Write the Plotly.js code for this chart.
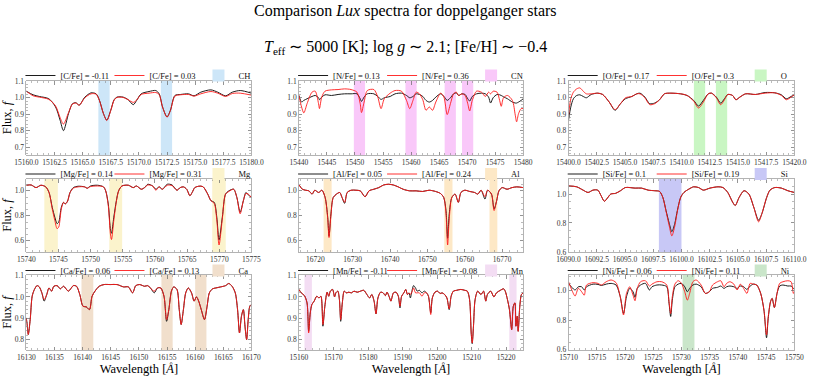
<!DOCTYPE html>
<html>
<head>
<meta charset="utf-8">
<script src="https://cdn.plot.ly/plotly-3.0.1.min.js"></script>
<style>
  html, body { margin: 0; padding: 0; background: #fff; }
  #graph { width: 830px; height: 376px; }
</style>
</head>
<body>
<div id="graph"></div>
<script>
// ---- [C/Fe] : CH lines
const chWave = [15160, 15160.6, 15161.15, 15162.0, 15162.6, 15163.0, 15163.3, 15163.75, 15164.1, 15164.4, 15164.7, 15165.2, 15165.75, 15166.2, 15166.5, 15166.85, 15167.15, 15167.5, 15167.8, 15168.05, 15168.6, 15169.05, 15169.5, 15169.8, 15170.2, 15170.9, 15171.5, 15171.8, 15172.1, 15172.5, 15172.8, 15173.2, 15173.7, 15174.4, 15174.9, 15175.5, 15176.4, 15177.0, 15177.7, 15178.3, 15179.0, 15180.0]
const chLow = [1.04, 1.018, 1.008, 0.994, 0.944, 0.864, 0.80, 0.904, 0.964, 0.97, 0.955, 1.004, 1.03, 1.024, 0.984, 0.904, 0.864, 0.924, 0.988, 1.004, 1.004, 0.988, 0.958, 0.984, 1.024, 1.038, 1.044, 1.024, 0.944, 0.884, 0.924, 1.014, 1.02, 1.024, 1.012, 1.034, 1.048, 1.034, 1.012, 1.034, 1.044, 1.028]
const chHigh = [1.04, 1.012, 1.004, 0.99, 0.95, 0.88, 0.84, 0.91, 0.962, 0.968, 0.955, 1.0, 1.024, 1.022, 0.982, 0.904, 0.862, 0.922, 0.986, 1.002, 1.002, 0.988, 0.972, 0.986, 1.02, 1.028, 1.032, 1.02, 0.944, 0.882, 0.922, 1.01, 1.018, 1.02, 1.01, 1.024, 1.038, 1.028, 1.008, 1.026, 1.028, 1.016]
const chBands = [[15166.4, 15167.4], [15171.95, 15172.95]]
const chNames = ['[C/Fe] = -0.11', '[C/Fe] = 0.03', 'CH']

// ---- [N/Fe] : CN lines
const cnWave = [15440, 15440.47, 15440.87, 15441.45, 15442.33, 15442.9, 15443.5, 15443.66, 15444.07, 15444.65, 15445.8, 15446.98, 15448.14, 15449.3, 15450.35, 15450.93, 15451.16, 15451.63, 15452.2, 15453.37, 15454.07, 15454.65, 15455.23, 15456.28, 15457.15, 15458.3, 15459.19, 15459.77, 15460.35, 15460.93, 15461.5, 15462.1, 15462.67, 15463.26, 15463.84, 15464.42, 15465.29, 15465.87, 15466.45, 15467.03, 15467.6, 15468.08, 15468.5, 15469.07, 15469.65, 15470.12, 15470.47, 15470.93, 15471.69, 15472.56, 15473.26, 15473.84, 15474.19, 15474.65, 15475.35, 15475.81, 15476.1, 15476.5, 15477.2, 15478.08, 15478.6, 15478.84, 15479.19, 15479.65, 15480]
const cnLow = [1.014, 0.974, 0.984, 0.994, 1.008, 1.014, 1.0, 0.988, 1.004, 1.018, 1.014, 1.02, 1.024, 1.024, 1.024, 0.994, 0.978, 1.004, 1.024, 1.024, 1.008, 0.99, 1.0, 1.008, 1.024, 1.028, 1.014, 1.0, 1.008, 1.024, 1.02, 1.008, 0.984, 0.974, 0.984, 1.004, 1.024, 1.008, 0.984, 1.0, 1.024, 1.03, 1.014, 1.024, 1.02, 0.994, 0.98, 1.008, 1.024, 1.028, 1.024, 1.004, 0.968, 1.0, 1.02, 1.018, 1.014, 1.006, 0.994, 0.974, 0.968, 0.968, 0.974, 0.984, 0.994]
const cnHigh = [1.014, 0.944, 0.908, 0.964, 1.034, 1.04, 0.964, 0.934, 1.004, 1.04, 1.048, 1.05, 1.054, 1.05, 1.034, 0.964, 0.91, 0.974, 1.044, 1.05, 1.004, 0.934, 0.994, 1.028, 1.044, 1.04, 0.984, 0.934, 0.984, 1.034, 1.024, 0.988, 0.924, 0.944, 0.924, 0.974, 1.028, 1.004, 0.898, 0.964, 1.024, 1.034, 1.014, 1.024, 1.014, 0.964, 0.92, 0.984, 1.04, 1.034, 1.008, 1.034, 1.024, 1.04, 1.034, 0.984, 0.948, 1.0, 1.014, 0.984, 0.894, 0.854, 0.904, 0.934, 0.934]
const cnBands = [[15449.8, 15451.8], [15459, 15461], [15466, 15468], [15469.1, 15471.1]]
const cnNames = ['[N/Fe] = 0.13', '[N/Fe] = 0.36', 'CN']

// ---- [O/Fe] : O lines
const oWave = [15400, 15400.2, 15400.43, 15400.72, 15401.0, 15401.3, 15401.58, 15402.01, 15402.59, 15403.02, 15403.6, 15404.12, 15404.6, 15405.04, 15405.61, 15406.04, 15406.33, 15406.76, 15407.19, 15407.63, 15408.06, 15408.49, 15409.06, 15409.93, 15410.5, 15411.08, 15411.51, 15411.94, 15412.37, 15412.66, 15413.09, 15413.47, 15413.81, 15414.1, 15414.53, 15414.82, 15415.17, 15415.68, 15416.55, 15417.41, 15418.27, 15418.85, 15419.28, 15419.71, 15420]
const oLow = [0.864, 0.944, 0.994, 1.014, 1.018, 1.008, 1.0, 1.02, 1.028, 1.02, 0.974, 0.924, 0.964, 0.994, 1.008, 1.024, 1.028, 1.004, 0.964, 0.968, 0.988, 1.024, 1.028, 1.024, 1.014, 0.984, 0.95, 0.984, 1.024, 1.028, 1.004, 0.968, 0.994, 1.02, 1.014, 0.988, 1.004, 1.024, 1.02, 1.032, 1.03, 1.018, 0.994, 1.008, 1.018]
const oHigh = [0.894, 0.994, 1.034, 1.054, 1.06, 1.04, 1.024, 1.024, 1.028, 1.02, 0.974, 0.928, 0.964, 1.0, 1.008, 1.024, 1.024, 1.0, 0.958, 0.964, 0.988, 1.024, 1.028, 1.024, 1.014, 0.98, 0.938, 0.974, 1.024, 1.028, 1.0, 0.958, 0.988, 1.02, 1.014, 0.988, 1.004, 1.024, 1.02, 1.028, 1.03, 1.014, 0.988, 1.004, 1.018]
const oBands = [[15411.1, 15412.1], [15413.05, 15414.05]]
const oNames = ['[O/Fe] = 0.17', '[O/Fe] = 0.3', 'O']

// ---- [Mg/Fe] : Mg lines
const mgWave = [15740, 15740.76, 15741.51, 15742.27, 15743.02, 15743.53, 15744.03, 15744.43, 15744.78, 15745.04, 15745.44, 15745.79, 15746.04, 15746.4, 15746.8, 15747.3, 15748.06, 15749.06, 15749.47, 15749.97, 15751.08, 15751.99, 15752.34, 15752.74, 15753.09, 15753.24, 15753.6, 15754.0, 15754.35, 15754.86, 15755.86, 15756.62, 15757.12, 15757.88, 15758.38, 15758.89, 15759.64, 15760.14, 15760.65, 15761.15, 15761.91, 15762.66, 15763.42, 15763.92, 15764.42, 15764.93, 15765.43, 15765.78, 15766.19, 15766.79, 15767.45, 15768.2, 15768.7, 15769.21, 15769.61, 15769.96, 15770.47, 15770.97, 15771.48, 15772.23, 15772.73, 15773.24, 15773.74, 15774.14, 15774.5, 15775]
const mgLow = [1.045, 1.047, 1.026, 1.045, 1.032, 0.987, 0.868, 0.789, 0.737, 0.75, 0.868, 0.908, 0.895, 0.916, 0.987, 1.026, 1.037, 1.032, 1.021, 1.039, 1.045, 1.032, 1.0, 0.895, 0.684, 0.66, 0.789, 0.921, 1.0, 1.039, 1.045, 1.026, 1.039, 1.013, 1.026, 1.053, 1.039, 1.013, 1.032, 1.013, 1.053, 1.047, 1.005, 1.026, 1.032, 1.013, 0.961, 0.987, 1.026, 1.037, 1.034, 0.974, 0.921, 0.908, 0.789, 0.605, 0.789, 0.974, 1.0, 1.013, 0.947, 0.829, 0.921, 0.987, 0.968, 0.947]
const mgHigh = [1.045, 1.047, 1.026, 1.045, 1.032, 0.987, 0.855, 0.763, 0.697, 0.71, 0.855, 0.908, 0.895, 0.916, 0.987, 1.021, 1.032, 1.032, 1.021, 1.034, 1.039, 1.032, 1.0, 0.882, 0.645, 0.61, 0.763, 0.916, 1.0, 1.039, 1.045, 1.026, 1.039, 1.013, 1.026, 1.047, 1.039, 1.005, 1.032, 1.013, 1.045, 1.042, 1.005, 1.026, 1.032, 1.013, 0.961, 0.987, 1.026, 1.037, 1.034, 0.974, 0.921, 0.9, 0.768, 0.566, 0.776, 0.974, 0.995, 1.013, 0.947, 0.816, 0.921, 0.979, 0.974, 0.947]
const mgBands = [[15742.8, 15744.9], [15752.9, 15754.9], [15768.9, 15771.0]]
const mgNames = ['[Mg/Fe] = 0.14', '[Mg/Fe] = 0.31', 'Mg']

// ---- [Al/Fe] : Al lines
const alWave = [16715.65, 16716.52, 16717.39, 16718.26, 16719.13, 16719.83, 16720.87, 16721.74, 16722.61, 16723.3, 16723.65, 16724.17, 16724.78, 16725.65, 16726.52, 16727.13, 16727.83, 16728.52, 16729.57, 16730.87, 16732.0, 16733.3, 16734.35, 16735.65, 16736.96, 16738.26, 16739.57, 16740.87, 16742.17, 16743.48, 16745.22, 16746.96, 16748.7, 16750.43, 16752.17, 16753.48, 16754.35, 16754.96, 16755.39, 16755.83, 16756.52, 16757.39, 16758.26, 16758.96, 16760.0, 16761.3, 16762.61, 16763.48, 16764.35, 16765.39, 16766.09, 16767.13, 16767.83, 16768.52, 16769.13, 16770.0, 16771.3, 16772.61, 16773.91, 16775.65]
const alLow = [1.047, 1.013, 1.005, 1.0, 0.974, 1.005, 0.987, 1.005, 0.947, 0.789, 0.637, 0.816, 0.947, 0.974, 0.987, 0.947, 0.9, 0.987, 1.005, 1.005, 1.0, 0.953, 1.0, 1.013, 1.026, 1.047, 1.053, 1.047, 1.032, 1.013, 1.0, 1.0, 0.995, 1.005, 0.995, 0.979, 0.947, 0.842, 0.62, 0.816, 0.947, 0.974, 0.908, 0.987, 1.005, 0.995, 0.987, 0.974, 1.005, 0.934, 1.005, 0.974, 0.855, 0.921, 1.0, 1.026, 1.013, 1.026, 1.032, 1.026]
const alHigh = [1.047, 1.013, 1.005, 1.0, 0.974, 1.005, 0.987, 1.005, 0.947, 0.779, 0.626, 0.806, 0.947, 0.974, 0.987, 0.947, 0.908, 0.987, 1.005, 1.005, 1.0, 0.953, 1.0, 1.013, 1.026, 1.047, 1.053, 1.047, 1.032, 1.013, 1.0, 1.0, 0.995, 1.005, 0.995, 0.979, 0.947, 0.816, 0.566, 0.776, 0.947, 0.974, 0.908, 0.987, 1.005, 0.995, 0.987, 0.974, 1.005, 0.953, 1.005, 0.974, 0.842, 0.921, 1.0, 1.026, 1.013, 1.026, 1.032, 1.026]
const alBands = [[16722.2, 16724.35], [16754.5, 16756.7], [16766.6, 16768.7]]
const alNames = ['[Al/Fe] = 0.05', '[Al/Fe] = 0.24', 'Al']

// ---- [Si/Fe] : Si lines
const siWave = [16090, 16090.72, 16091.29, 16091.73, 16092.16, 16092.59, 16092.88, 16093.17, 16093.45, 16093.74, 16094.17, 16094.6, 16095.04, 16095.9, 16096.47, 16097.05, 16097.63, 16098.06, 16098.35, 16098.63, 16098.92, 16099.15, 16099.41, 16099.64, 16099.93, 16100.22, 16100.65, 16101.08, 16101.51, 16101.94, 16102.52, 16103.24, 16103.67, 16104.1, 16104.53, 16104.76, 16105.11, 16105.54, 16105.97, 16106.4, 16106.83, 16107.12, 16107.55, 16107.84, 16108.27, 16108.85, 16109.42, 16110]
const siLow = [1.056, 1.05, 1.027, 1.011, 1.027, 1.027, 0.989, 0.95, 0.973, 1.0, 1.005, 1.023, 1.045, 1.041, 1.041, 1.027, 1.023, 1.018, 0.977, 0.887, 0.797, 0.74, 0.797, 0.887, 0.977, 1.011, 1.034, 1.05, 1.045, 1.027, 1.041, 1.05, 1.045, 1.011, 0.944, 0.921, 0.977, 1.023, 1.0, 0.91, 0.819, 0.864, 0.977, 1.027, 1.045, 1.041, 1.023, 1.011]
const siHigh = [1.056, 1.05, 1.027, 1.011, 1.027, 1.027, 0.989, 0.95, 0.973, 1.0, 1.005, 1.023, 1.045, 1.041, 1.041, 1.027, 1.023, 1.018, 0.977, 0.882, 0.779, 0.711, 0.779, 0.882, 0.977, 1.011, 1.034, 1.05, 1.045, 1.027, 1.041, 1.05, 1.045, 1.011, 0.944, 0.921, 0.977, 1.023, 1.0, 0.91, 0.808, 0.864, 0.977, 1.027, 1.045, 1.041, 1.023, 1.011]
const siBands = [[16098.0, 16100.0]]
const siNames = ['[Si/Fe] = 0.1', '[Si/Fe] = 0.19', 'Si']

// ---- [Ca/Fe] : Ca lines
const caWave = [16130, 16130.17, 16130.35, 16130.69, 16131.04, 16131.44, 16131.9, 16132.3, 16132.76, 16133.17, 16133.63, 16134.03, 16134.49, 16134.89, 16135.47, 16136.04, 16136.62, 16137.48, 16138.35, 16138.92, 16139.5, 16140.07, 16140.65, 16141.22, 16141.68, 16142.2, 16142.95, 16143.81, 16144.96, 16146.12, 16147.27, 16148.13, 16148.88, 16149.45, 16150.14, 16151.0, 16151.58, 16152.16, 16152.73, 16153.31, 16153.88, 16154.46, 16154.92, 16155.32, 16155.78, 16156.19, 16156.76, 16157.17, 16157.51, 16157.91, 16158.32, 16158.78, 16159.35, 16159.81, 16160.22, 16160.62, 16161.08, 16161.65, 16162.12, 16162.52, 16163.09, 16163.67, 16164.53, 16165.4, 16165.97, 16166.55, 16167.12, 16167.53, 16167.87, 16168.22, 16168.56, 16168.85, 16169.14, 16169.42, 16169.71, 16170]
const caLow = [0.901, 0.862, 0.823, 0.893, 1.003, 1.035, 1.053, 1.047, 1.019, 0.98, 1.011, 1.042, 1.027, 1.05, 1.053, 1.038, 1.05, 1.027, 1.053, 1.05, 1.011, 0.956, 0.953, 0.94, 1.003, 1.027, 1.05, 1.058, 1.058, 1.058, 1.047, 1.047, 1.019, 1.053, 1.058, 1.05, 1.053, 1.038, 1.019, 1.042, 1.042, 1.003, 0.885, 0.94, 1.027, 1.047, 1.035, 0.94, 0.87, 0.94, 1.019, 1.042, 1.019, 0.98, 1.0, 0.98, 0.94, 0.893, 0.956, 1.019, 1.038, 1.042, 1.047, 1.053, 1.063, 1.05, 1.019, 0.94, 0.83, 0.909, 0.94, 0.862, 0.799, 0.893, 0.956, 0.964]
const caHigh = [0.901, 0.862, 0.823, 0.893, 1.003, 1.035, 1.053, 1.047, 1.019, 0.987, 1.011, 1.042, 1.027, 1.05, 1.053, 1.038, 1.05, 1.027, 1.053, 1.05, 1.011, 0.956, 0.953, 0.94, 1.003, 1.027, 1.05, 1.058, 1.058, 1.058, 1.047, 1.047, 1.019, 1.053, 1.058, 1.05, 1.053, 1.038, 1.027, 1.042, 1.042, 1.003, 0.893, 0.94, 1.027, 1.047, 1.035, 0.94, 0.87, 0.94, 1.019, 1.042, 1.019, 0.98, 1.0, 0.98, 0.94, 0.893, 0.956, 1.019, 1.038, 1.042, 1.047, 1.053, 1.063, 1.05, 1.019, 0.94, 0.83, 0.909, 0.94, 0.862, 0.799, 0.893, 0.956, 0.964]
const caBands = [[16139.8, 16141.9], [16154.0, 16156.0], [16160.0, 16162.0]]
const caNames = ['[Ca/Fe] = 0.06', '[Ca/Fe] = 0.13', 'Ca']

// ---- [Mn/Fe] : Mn lines
const mnWave = [15160, 15160.66, 15161.59, 15162.34, 15162.81, 15163.28, 15163.75, 15164.41, 15165.16, 15165.81, 15166.37, 15166.94, 15167.5, 15168.16, 15168.62, 15169.09, 15169.75, 15170.31, 15170.69, 15171.25, 15171.72, 15172.09, 15172.56, 15173.12, 15173.78, 15174.44, 15175.19, 15175.94, 15176.87, 15177.81, 15178.75, 15179.69, 15180.44, 15181.09, 15181.75, 15182.31, 15182.87, 15183.62, 15184.37, 15185.03, 15185.5, 15186.25, 15186.62, 15187.37, 15188.12, 15188.78, 15189.25, 15189.72, 15190.37, 15190.94, 15191.41, 15191.87, 15192.25, 15192.81, 15193.19, 15193.75, 15194.22, 15194.87, 15195.62, 15196.28, 15196.94, 15197.5, 15198.16, 15198.62, 15199.37, 15200.12, 15200.87, 15201.44, 15202.19, 15202.84, 15203.5, 15204.06, 15204.72, 15205.66, 15206.87, 15208.0, 15208.75, 15209.4, 15209.87, 15210.16, 15210.53, 15211.0, 15211.75, 15212.69, 15213.44, 15214.09, 15214.56, 15215.5, 15216.44, 15217.19, 15218.31, 15219.25, 15219.72, 15220.37, 15220.94, 15221.59, 15222.06, 15222.53, 15222.81, 15223.19, 15223.47, 15223.94, 15224.41, 15224.87]
const mnLow = [1.035, 1.019, 1.006, 0.972, 0.838, 0.925, 0.964, 0.98, 1.003, 0.995, 1.003, 0.862, 0.956, 1.022, 1.003, 1.027, 1.035, 1.0, 1.019, 1.027, 0.987, 0.885, 0.972, 1.027, 1.019, 1.022, 1.019, 1.027, 1.022, 1.027, 1.031, 1.011, 0.995, 1.011, 0.98, 0.92, 0.995, 1.022, 1.019, 1.006, 1.022, 0.995, 0.98, 1.019, 1.022, 1.003, 0.948, 1.003, 1.019, 1.035, 1.011, 1.019, 0.995, 1.035, 1.053, 1.042, 1.027, 1.031, 1.019, 1.027, 1.019, 1.003, 0.925, 0.995, 1.022, 1.027, 1.016, 1.019, 1.011, 0.995, 0.94, 1.003, 1.027, 1.031, 1.035, 1.031, 1.027, 0.987, 0.83, 0.78, 0.862, 0.987, 1.027, 1.011, 1.027, 0.98, 1.011, 1.027, 1.0, 1.019, 1.031, 1.038, 1.027, 0.987, 0.94, 0.846, 0.956, 0.972, 0.862, 0.909, 0.838, 0.956, 1.011, 1.019]
const mnHigh = [1.035, 1.019, 1.006, 0.972, 0.83, 0.925, 0.964, 0.98, 1.003, 0.995, 1.003, 0.87, 0.956, 1.022, 1.003, 1.027, 1.035, 1.0, 1.019, 1.027, 0.987, 0.893, 0.972, 1.027, 1.019, 1.022, 1.019, 1.027, 1.022, 1.027, 1.031, 1.011, 0.995, 1.011, 0.98, 0.92, 0.995, 1.022, 1.019, 1.006, 1.022, 0.995, 0.98, 1.019, 1.022, 1.003, 0.956, 1.003, 1.019, 1.035, 1.011, 1.019, 1.011, 1.027, 1.042, 1.019, 1.019, 1.019, 1.003, 1.019, 1.019, 1.003, 0.917, 0.995, 1.022, 1.027, 1.016, 1.019, 1.011, 0.995, 0.943, 1.003, 1.027, 1.031, 1.035, 1.031, 1.027, 0.987, 0.83, 0.783, 0.862, 0.987, 1.027, 1.011, 1.027, 0.98, 1.011, 1.027, 1.0, 1.019, 1.031, 1.038, 1.027, 0.987, 0.94, 0.846, 0.956, 0.972, 0.862, 0.909, 0.838, 0.956, 1.011, 1.019]
const mnBands = [[15161.6, 15163.75], [15220.9, 15223.0]]
const mnNames = ['[Mn/Fe] = -0.11', '[Mn/Fe] = -0.08', 'Mn']

// ---- [Ni/Fe] : Ni lines
const niWave = [15710, 15710.58, 15711.16, 15711.74, 15712.32, 15712.78, 15713.19, 15714.35, 15715.22, 15715.8, 15716.67, 15717.54, 15718.41, 15719.16, 15719.74, 15720.26, 15720.84, 15721.42, 15721.77, 15722.17, 15722.75, 15723.62, 15724.32, 15724.78, 15725.65, 15726.52, 15727.39, 15727.8, 15728.09, 15728.38, 15728.84, 15729.42, 15730.0, 15730.58, 15731.04, 15731.45, 15732.03, 15732.61, 15733.48, 15734.23, 15734.93, 15735.51, 15736.38, 15736.96, 15737.54, 15738.0, 15738.58, 15739.28, 15739.86, 15740.43, 15741.01, 15741.59, 15742.17, 15742.75, 15743.33, 15744.03, 15744.61, 15745.07, 15745.36, 15745.77, 15746.06, 15746.46, 15746.93, 15747.39, 15747.97, 15748.84, 15749.42, 15749.83, 15750]
const niLow = [1.05, 1.023, 1.005, 1.027, 1.027, 1.005, 1.027, 1.045, 1.043, 1.036, 1.045, 1.05, 1.039, 0.959, 0.845, 0.959, 1.016, 0.993, 0.955, 1.016, 1.039, 1.05, 1.005, 1.027, 1.039, 1.039, 1.027, 0.914, 0.825, 0.936, 1.027, 1.045, 1.05, 1.027, 0.993, 1.016, 1.039, 1.045, 1.027, 0.982, 0.993, 1.016, 1.023, 1.032, 1.016, 1.027, 1.032, 1.027, 1.016, 1.032, 1.027, 1.009, 1.032, 1.045, 1.039, 0.982, 0.868, 0.68, 0.81, 0.925, 0.948, 0.886, 0.982, 1.032, 1.039, 1.032, 1.032, 1.016, 1.016]
const niHigh = [1.061, 1.005, 0.964, 1.016, 0.993, 0.97, 1.039, 1.055, 1.05, 1.039, 1.061, 1.073, 1.055, 0.959, 0.835, 0.982, 1.027, 0.97, 0.932, 1.016, 1.061, 1.068, 1.032, 1.045, 1.061, 1.061, 1.039, 0.925, 0.845, 0.959, 1.045, 1.068, 1.05, 0.993, 0.936, 0.982, 1.061, 1.073, 1.039, 0.982, 0.993, 1.039, 1.061, 1.068, 1.027, 1.05, 1.061, 1.045, 1.005, 1.045, 1.016, 0.982, 1.05, 1.045, 1.039, 0.982, 0.868, 0.7, 0.82, 0.925, 0.948, 0.886, 0.982, 1.05, 1.061, 1.068, 1.061, 0.982, 0.993]
const niBands = [[15730.2, 15732.3]]
const niNames = ['[Ni/Fe] = 0.06', '[Ni/Fe] = 0.11', 'Ni']

// ---- layout helpers (pixel -> paper)
const W = 830, H = 376
const px = v => v / W
const py = v => 1 - v / H
const SERIF = 'Liberation Serif, Times New Roman, serif'

const colsPx = [[27, 258], [306.7, 536.7], [583.3, 815]]
const rowsPx = [[81, 155], [179, 252], [275, 350]]
const legendY = [75.5, 174, 270.5]

const panels = [
    {wave: chWave, low: chLow, high: chHigh, bands: chBands, names: chNames, fill: '#cde6f8',
     xr: [15160, 15180], dx: 2.5, mx: 0.5, fmt: '.1f', yr: [0.652, 1.102], dy: 0.1, my: 0.02},
    {wave: cnWave, low: cnLow, high: cnHigh, bands: cnBands, names: cnNames, fill: '#f9c8f9',
     xr: [15440, 15480], dx: 5, mx: 1, fmt: 'd', yr: [0.652, 1.102], dy: 0.1, my: 0.02},
    {wave: oWave, low: oLow, high: oHigh, bands: oBands, names: oNames, fill: '#c9f6c3',
     xr: [15400, 15420], dx: 2.5, mx: 0.5, fmt: '.1f', yr: [0.652, 1.102], dy: 0.1, my: 0.02},
    {wave: mgWave, low: mgLow, high: mgHigh, bands: mgBands, names: mgNames, fill: '#fbf3cc',
     xr: [15740, 15775], dx: 5, mx: 1, fmt: 'd', yr: [0.51, 1.095], dy: 0.2, my: 0.05},
    {wave: alWave, low: alLow, high: alHigh, bands: alBands, names: alNames, fill: '#fde8c6',
     xr: [16715.6, 16775.6], dx: 10, mx: 2, fmt: 'd', yr: [0.51, 1.095], dy: 0.2, my: 0.05, t0: 16720},
    {wave: siWave, low: siLow, high: siHigh, bands: siBands, names: siNames, fill: '#c8c8f6',
     xr: [16090, 16110], dx: 2.5, mx: 0.5, fmt: '.1f', yr: [0.5995, 1.104], dy: 0.2, my: 0.05},
    {wave: caWave, low: caLow, high: caHigh, bands: caBands, names: caNames, fill: '#f1dfcc',
     xr: [16130, 16170], dx: 5, mx: 1, fmt: 'd', yr: [0.75, 1.103], dy: 0.1, my: 0.02},
    {wave: mnWave, low: mnLow, high: mnHigh, bands: mnBands, names: mnNames, fill: '#f3ddf3',
     xr: [15160, 15224.9], dx: 10, mx: 2, fmt: 'd', yr: [0.75, 1.103], dy: 0.1, my: 0.02},
    {wave: niWave, low: niLow, high: niHigh, bands: niBands, names: niNames, fill: '#cae6ca',
     xr: [15710, 15750], dx: 5, mx: 1, fmt: 'd', yr: [0.597, 1.107], dy: 0.2, my: 0.05},
]

const traces = []
const shapes = []
const layout = {
    width: W, height: H,
    margin: {l: 0, r: 0, t: 0, b: 0},
    paper_bgcolor: '#fff', plot_bgcolor: '#fff',
    font: {family: SERIF, color: '#000'},
    showlegend: true,
    annotations: [
        {text: 'Comparison <i>Lux</i> spectra for doppelganger stars', xref: 'paper', yref: 'paper',
         x: px(416), y: py(11), xanchor: 'center', yanchor: 'middle', showarrow: false,
         font: {size: 16, family: SERIF}},
        {text: '<i>T</i><sub>eff</sub> \u223C 5000 [K]; log <i>g</i> \u223C 2.1; [Fe/H] \u223C \u22120.4',
         xref: 'paper', yref: 'paper', x: px(416), y: py(47), xanchor: 'center', yanchor: 'middle',
         showarrow: false, font: {size: 16, family: SERIF}},
    ],
}

panels.forEach((p, i) => {
    const k = i + 1
    const sfx = k === 1 ? '' : String(k)
    const row = Math.floor(i / 3), col = i % 3
    const leg = 'legend' + sfx
    const xa = 'x' + sfx, ya = 'y' + sfx

    traces.push({
        x: p.wave, y: p.low, xaxis: xa, yaxis: ya, mode: 'lines', name: p.names[0], legend: leg,
        line: {color: '#1c1c1c', width: 1, shape: 'spline', smoothing: 0.8}, hoverinfo: 'skip',
    })
    traces.push({
        x: p.wave, y: p.high, xaxis: xa, yaxis: ya, mode: 'lines', name: p.names[1], legend: leg,
        line: {color: '#ff1a1a', width: 0.9, shape: 'spline', smoothing: 0.8}, hoverinfo: 'skip',
    })

    p.bands.forEach((b, j) => {
        shapes.push({
            type: 'rect', xref: xa, yref: ya + ' domain', x0: b[0], x1: b[1], y0: 0, y1: 1,
            fillcolor: p.fill, line: {width: 0}, layer: 'below',
            showlegend: j === 0, name: p.names[2], legend: leg,
        })
    })

    const axisCommon = {
        showgrid: false, zeroline: false, showline: true, linecolor: '#a0a0a0', linewidth: 0.8,
        mirror: 'ticks', ticks: 'inside', ticklen: 3.5, tickwidth: 0.7, tickcolor: '#666',
        tickfont: {size: 7.5, family: SERIF, color: '#333'},
    }

    const xaxis = Object.assign({}, axisCommon, {
        domain: [px(colsPx[col][0]), px(colsPx[col][1])],
        anchor: ya, range: p.xr, tick0: p.t0 || p.xr[0], dtick: p.dx, tickformat: p.fmt, tickangle: 0,
        minor: {ticks: 'inside', ticklen: 2, dtick: p.mx, tick0: p.t0 || p.xr[0], tickcolor: '#777', tickwidth: 0.5},
    })
    if (row === 2) xaxis.title = {text: 'Wavelength [<i>\u00C5</i>]', font: {size: 12.5, family: SERIF}, standoff: 3}
    layout['xaxis' + sfx] = xaxis

    const yaxis = Object.assign({}, axisCommon, {
        domain: [py(rowsPx[row][1]), py(rowsPx[row][0])],
        anchor: xa, range: p.yr, tick0: 0, dtick: p.dy, tickformat: '.1f',
        minor: {ticks: 'inside', ticklen: 2, dtick: p.my, tick0: 0, tickcolor: '#777', tickwidth: 0.5},
    })
    if (col === 0) yaxis.title = {text: 'Flux, <i>f</i>', font: {size: 12.5, family: SERIF}, standoff: 2}
    layout['yaxis' + sfx] = yaxis

    layout[leg] = {
        orientation: 'h', x: px(colsPx[col][0] - 6), xanchor: 'left',
        y: py(legendY[row]), yanchor: 'middle', bgcolor: 'rgba(0,0,0,0)',
        font: {size: 8.5, family: SERIF, color: '#111'}, itemwidth: 30,
        entrywidth: 44, entrywidthmode: 'pixels', tracegroupgap: 0, traceorder: 'normal',
    }
})

layout.shapes = shapes

Plotly.newPlot('graph', traces, layout, {staticPlot: true, displayModeBar: false})
</script>
</body>
</html>
